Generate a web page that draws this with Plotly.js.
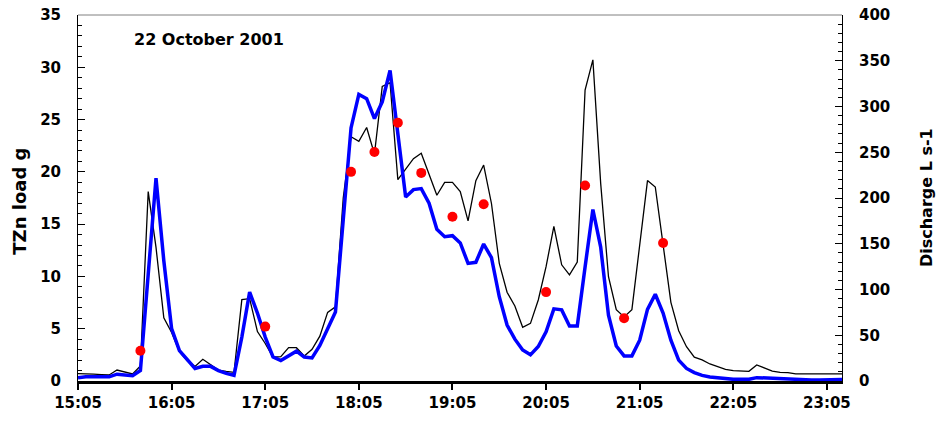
<!DOCTYPE html>
<html>
<head>
<meta charset="utf-8">
<script src="https://cdn.plot.ly/plotly-3.0.1.min.js"></script>
<style>
  html, body { margin: 0; padding: 0; background: #fff; }
  #chart { width: 936px; height: 421px; }
</style>
</head>
<body>
<div id="chart"></div>
<script>
// ---- data ----
const day = '2001-10-22 ';
const times = [
  '15:05','15:10','15:15','15:20','15:25','15:30','15:35','15:40','15:45','15:50','15:55','16:00',
  '16:05','16:10','16:15','16:20','16:25','16:30','16:35','16:40','16:45','16:50','16:55','17:00',
  '17:05','17:10','17:15','17:20','17:25','17:30','17:35','17:40','17:45','17:50','17:55','18:00',
  '18:05','18:10','18:15','18:20','18:25','18:30','18:35','18:40','18:45','18:50','18:55','19:00',
  '19:05','19:10','19:15','19:20','19:25','19:30','19:35','19:40','19:45','19:50','19:55','20:00',
  '20:05','20:10','20:15','20:20','20:25','20:30','20:35','20:40','20:45','20:50','20:55','21:00',
  '21:05','21:10','21:15','21:20','21:25','21:30','21:35','21:40','21:45','21:50','21:55','22:00',
  '22:05','22:10','22:15','22:20','22:25','22:30','22:35','22:40','22:45','22:50','22:55','23:00',
  '23:05','23:10','23:15'
];
// Discharge, L s-1 (thin black line, right axis)
const discharge = [
  8, 8, 7.5, 7, 6.6, 12, 10, 7.7, 16.5, 207, 146, 69,
  53, 32, 22, 16, 23.7, 17.5, 12, 10.5, 9.5, 89, 90, 54,
  41, 26, 26.6, 36.4, 36.4, 27.3, 34.6, 49, 75, 81, 200, 267,
  262, 277, 248, 322, 326, 220, 231, 243, 249, 225, 203, 217,
  217, 207, 175, 219, 236, 194, 128.6, 97, 82, 58.7, 63, 88.5,
  125, 169, 127, 116, 130, 318, 351, 216, 114, 78, 70, 78,
  150, 219, 212, 150, 86, 55, 37.5, 26, 23, 18.6, 15.7, 12.8,
  11.3, 11.3, 10.6, 17.5, 14.6, 10.9, 9.5, 9.1, 7.7, 7.7, 7.7, 7.7,
  7.7, 7.7, 7.7
];
// TZn load, g (thick blue line, left axis)
const tznLoad = [
  0.3, 0.4, 0.4, 0.4, 0.4, 0.65, 0.6, 0.5, 1.0, 10, 19.4, 11.5,
  5.0, 2.9, 2.0, 1.2, 1.4, 1.4, 1.0, 0.73, 0.55, 4.2, 8.5, 6.5,
  4.2, 2.3, 1.95, 2.4, 2.85, 2.3, 2.2, 3.4, 5.0, 6.6, 15.4, 24.2,
  27.4, 27.0, 25.1, 26.7, 29.7, 23.5, 17.6, 18.3, 18.4, 17.0, 14.5, 13.8,
  13.9, 13.2, 11.25, 11.35, 13.1, 11.8, 8.06, 5.35, 4.0, 2.96, 2.5, 3.3,
  4.7, 6.9, 6.8, 5.26, 5.26, 10.9, 16.4, 12.8, 6.3, 3.35, 2.4, 2.4,
  3.9, 6.85, 8.3, 6.5, 3.9, 2.0, 1.2, 0.8, 0.54, 0.38, 0.29, 0.22,
  0.16, 0.16, 0.16, 0.32, 0.29, 0.19, 0.16, 0.16, 0.12, 0.1, 0.1, 0.1,
  0.1, 0.1, 0.15
];
// sampled TZn load, g (red dots, left axis)
const sampleTimes = ['15:45','17:05','18:00','18:15','18:30','18:45','19:05','19:25','20:05','20:30','20:55','21:20'];
const sampleLoad  = [2.9, 5.2, 20.0, 21.9, 24.7, 19.9, 15.7, 16.9, 8.5, 18.7, 6.0, 13.2];
// axis ticks
const tickTimes = ['15:05','16:05','17:05','18:05','19:05','20:05','21:05','22:05','23:05'];

const FONT = 'DejaVu Sans, Arial, sans-serif';
const tfont = {family: FONT, size: 15, color: '#000', weight: 'bold'};

const traces = [
  {
    x: times.map(t => day + t), y: discharge,
    type: 'scatter', mode: 'lines', yaxis: 'y',
    line: {color: '#000000', width: 1.3},
    hoverinfo: 'skip', showlegend: false
  },
  {
    x: times.map(t => day + t), y: tznLoad,
    type: 'scatter', mode: 'lines', yaxis: 'y2',
    line: {color: '#0000FF', width: 3.5},
    hoverinfo: 'skip', showlegend: false
  },
  {
    x: sampleTimes.map(t => day + t), y: sampleLoad,
    type: 'scatter', mode: 'markers', yaxis: 'y2',
    marker: {color: '#FF0000', size: 10, symbol: 'circle', line: {width: 0}},
    cliponaxis: false,
    hoverinfo: 'skip', showlegend: false
  }
];

const layout = {
  width: 936, height: 421,
  margin: {l: 78, r: 94, t: 15, b: 40, pad: 0},
  paper_bgcolor: '#fff', plot_bgcolor: '#fff',
  showlegend: false,
  xaxis: {
    type: 'date',
    range: [day + '15:05:00', day + '23:14:40'],
    tickvals: tickTimes.map(t => day + t),
    ticktext: tickTimes,
    ticks: 'outside', ticklen: 6, tickwidth: 2, tickcolor: '#000',
    showline: true, linewidth: 2.5, linecolor: '#000',
    showgrid: false, zeroline: false,
    tickfont: tfont
  },
  yaxis: {
    side: 'right',
    range: [0, 400], dtick: 50, tick0: 0,
    ticks: 'inside', ticklen: 7, tickwidth: 1, tickcolor: '#000',
    minor: {dtick: 10, ticks: 'inside', ticklen: 4, tickwidth: 1, tickcolor: '#000', showgrid: false},
    showline: true, linewidth: 1, linecolor: '#000',
    showgrid: false, zeroline: false,
    tickfont: tfont, ticklabelstandoff: 13
  },
  yaxis2: {
    side: 'left', overlaying: 'y',
    range: [0, 35], dtick: 5, tick0: 0,
    ticks: 'inside', ticklen: 7, tickwidth: 1, tickcolor: '#000',
    minor: {dtick: 1, ticks: 'inside', ticklen: 4, tickwidth: 1, tickcolor: '#000', showgrid: false},
    showline: true, linewidth: 1, linecolor: '#000',
    showgrid: false, zeroline: false,
    tickfont: tfont, ticklabelstandoff: 13
  },
  shapes: [
    {type: 'line', xref: 'paper', yref: 'paper', x0: 0, x1: 1, y0: 1, y1: 1,
     line: {color: '#808080', width: 1}}
  ],
  annotations: [
    {text: '22 October 2001', xref: 'paper', yref: 'paper', x: 0.0703, y: 0.934,
     xanchor: 'left', yanchor: 'middle', showarrow: false,
     font: {family: FONT, size: 16, color: '#000', weight: 'bold'}},
    {text: 'TZn load g', xref: 'paper', yref: 'paper', x: -0.0759, y: 0.49,
     xanchor: 'center', yanchor: 'middle', textangle: -90, showarrow: false,
     font: {family: FONT, size: 18, color: '#000', weight: 'bold'}},
    {text: 'Discharge L s-1', xref: 'paper', yref: 'paper', x: 1.11, y: 0.5,
     xanchor: 'center', yanchor: 'middle', textangle: -90, showarrow: false,
     font: {family: FONT, size: 16, color: '#000', weight: 'bold'}}
  ]
};

Plotly.newPlot('chart', traces, layout, {staticPlot: true, displayModeBar: false});
</script>
</body>
</html>
